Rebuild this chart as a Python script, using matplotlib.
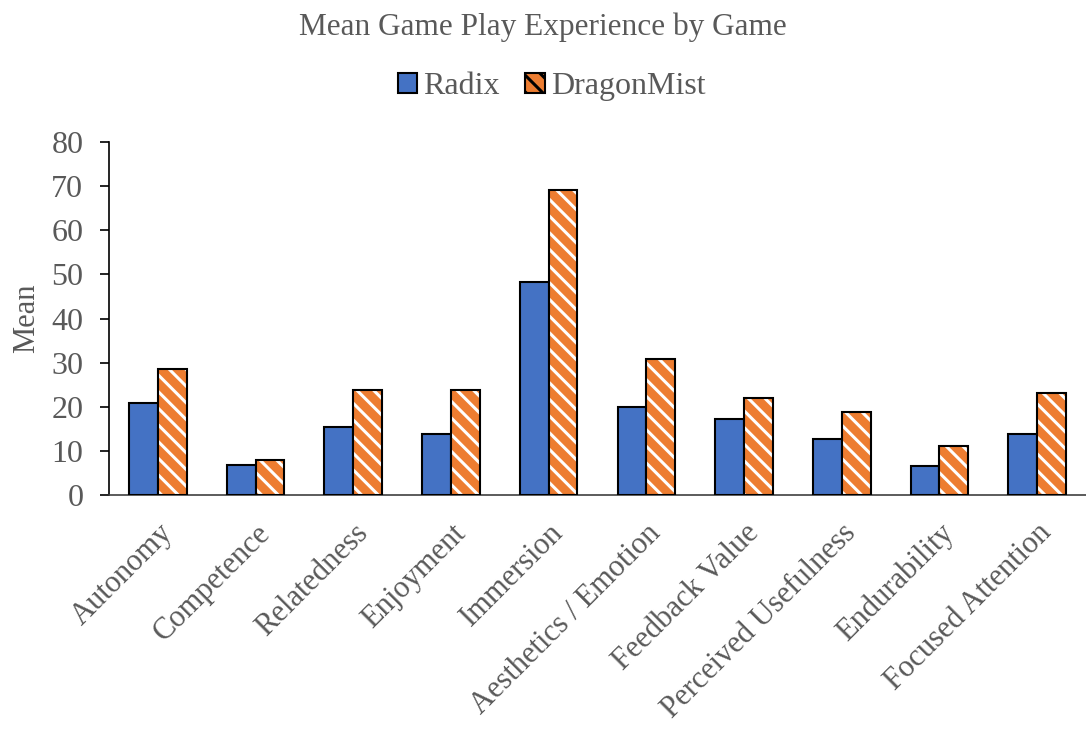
import matplotlib
matplotlib.use("Agg")
import matplotlib.pyplot as plt
import numpy as np
from matplotlib.patches import Patch

categories = ["Autonomy", "Competence", "Relatedness", "Enjoyment", "Immersion",
              "Aesthetics / Emotion", "Feedback Value", "Perceived Usefulness",
              "Endurability", "Focused Attention"]
radix = [20.8, 6.9, 15.4, 13.9, 48.4, 20.0, 17.3, 12.8, 6.6, 13.9]
dragonmist = [28.5, 8.0, 23.9, 23.9, 69.1, 30.8, 21.9, 18.8, 11.2, 23.2]
yticks = [0, 10, 20, 30, 40, 50, 60, 70, 80]

plt.rcParams['font.family'] = ['Liberation Serif', 'DejaVu Serif']
plt.rcParams['hatch.linewidth'] = 2.2
gray = '#595959'
blue = '#4472C4'
orange = '#ED7D31'

fig = plt.figure(figsize=(10.86, 7.29), dpi=100)
ax = fig.add_axes([0.1004, 0.321, 0.8996, 0.484])

x = np.arange(len(categories))
w = 0.295
ax.bar(x - w/2, radix, w, color=blue, edgecolor='black', linewidth=1.5, zorder=3)
ax.bar(x + w/2, dragonmist, w, color=orange, edgecolor='white', hatch='\\\\', linewidth=0, zorder=3)
ax.bar(x + w/2, dragonmist, w, color='none', edgecolor='black', linewidth=1.5, zorder=4)

ax.set_xlim(-0.5, len(categories) - 0.5)
ax.set_ylim(0, 80)
ax.set_yticks(yticks)
ax.tick_params(axis='y', labelsize=23, labelcolor=gray, direction='out', length=6.5, width=1.2,
               color='black', pad=12)
ax.set_xticks(x)
ax.set_xticklabels(categories, rotation=45, ha='right', rotation_mode='anchor', fontsize=22, color=gray)
ax.tick_params(axis='x', length=0, pad=17)
for s in ['top', 'right']:
    ax.spines[s].set_visible(False)
ax.spines['left'].set_linewidth(1.2)
ax.spines['bottom'].set_linewidth(1.2)
ax.spines['bottom'].set_color('#404040')
ax.set_ylabel('Mean', fontsize=22, color=gray, labelpad=7)

fig.text(0.5, 0.963, 'Mean Game Play Experience by Game', ha='center', va='center', fontsize=22.5, color=gray)
handles = [Patch(facecolor=blue, edgecolor='black', linewidth=1.5, label='Radix'),
           Patch(facecolor=orange, edgecolor='black', hatch='\\\\', linewidth=1.5, label='DragonMist')]
leg = fig.legend(handles=handles, loc='center', bbox_to_anchor=(0.508, 0.881), ncol=2, frameon=False,
                 fontsize=23, handlelength=0.6, handleheight=0.6, handletextpad=0.2, columnspacing=0.8)
for t in leg.get_texts():
    t.set_color(gray)

fig.savefig('out.png', dpi=100)
